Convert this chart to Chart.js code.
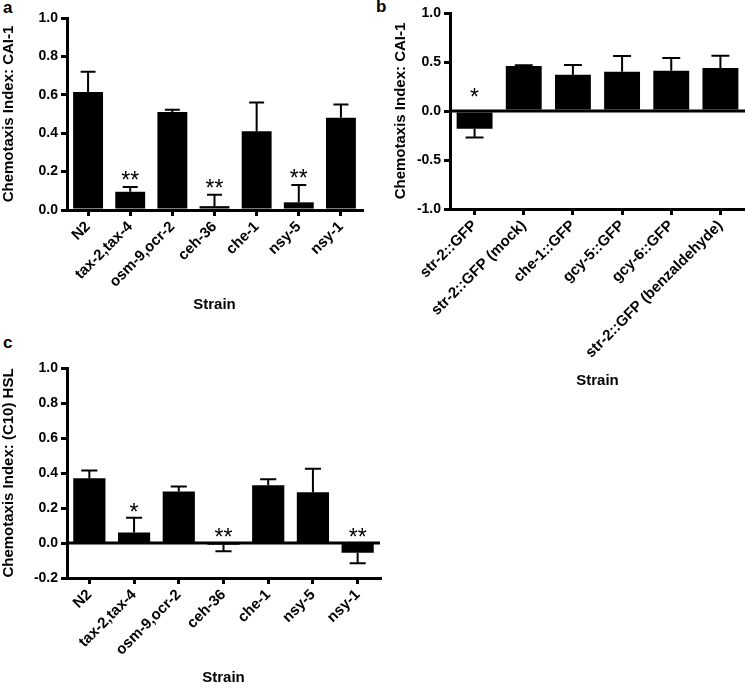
<!DOCTYPE html>
<html>
<head>
<meta charset="utf-8">
<title>Chemotaxis index</title>
<script src="https://cdn.jsdelivr.net/npm/chart.js@4.4.1/dist/chart.umd.min.js"></script>
<style>
  body { margin: 0; background: #fff; width: 745px; height: 688px; overflow: hidden; position: relative; font-family: "Liberation Sans", Arial, sans-serif; }
  canvas { position: absolute; }
  .letter { position: absolute; font-weight: bold; font-size: 17px; color: #000; }
</style>
</head>
<body>
<div class="letter" style="left:3px;top:-2px">a</div>
<div class="letter" style="left:376px;top:-3px">b</div>
<div class="letter" style="left:3px;top:333px">c</div>

<canvas id="chartA" width="372" height="314" style="left:0;top:0"></canvas>
<canvas id="chartB" width="373" height="390" style="left:372px;top:0"></canvas>
<canvas id="chartC" width="390" height="349" style="left:0;top:338px"></canvas>

<script>
// panel a - CAI-1
const strainsA = ['N2', 'tax-2,tax-4', 'osm-9,ocr-2', 'ceh-36', 'che-1', 'nsy-5', 'nsy-1'];
const meanA = [0.615, 0.095, 0.51, 0.02, 0.41, 0.04, 0.48];
const semA = [0.105, 0.025, 0.012, 0.06, 0.15, 0.09, 0.07];
const starsA = ['', '**', '', '**', '', '**', ''];

// panel b - CAI-1, GFP strains
const strainsB = ['str-2::GFP', 'str-2::GFP (mock)', 'che-1::GFP', 'gcy-5::GFP', 'gcy-6::GFP', 'str-2::GFP (benzaldehyde)'];
const meanB = [-0.18, 0.46, 0.37, 0.40, 0.41, 0.44];
const semB = [0.09, 0.008, 0.10, 0.16, 0.13, 0.125];
const starsB = ['*', '', '', '', '', ''];

// panel c - (C10) HSL
const strainsC = ['N2', 'tax-2,tax-4', 'osm-9,ocr-2', 'ceh-36', 'che-1', 'nsy-5', 'nsy-1'];
const meanC = [0.37, 0.06, 0.295, -0.01, 0.33, 0.29, -0.055];
const semC = [0.045, 0.085, 0.028, 0.037, 0.035, 0.135, 0.06];
const starsC = ['', '*', '', '**', '', '', '**'];

const FONT = '"Liberation Sans", Arial, sans-serif';

// error bars (one sided), stars and the zero line
function errorBarPlugin(means, sems, stars, starGap, zeroLine) {
  return {
    id: 'errorBars',
    afterDatasetsDraw(chart) {
      const ctx = chart.ctx;
      const y = chart.scales.y;
      const area = chart.chartArea;
      const yZero = y.getPixelForValue(0);
      ctx.save();
      ctx.strokeStyle = '#000';
      ctx.fillStyle = '#000';
      if (zeroLine) {
        ctx.lineWidth = 3;
        ctx.beginPath();
        ctx.moveTo(area.left, yZero);
        ctx.lineTo(area.right, yZero);
        ctx.stroke();
      }
      chart.getDatasetMeta(0).data.forEach((bar, i) => {
        const cx = bar.x;
        const half = bar.width / 4;
        const end = means[i] + (means[i] < 0 ? -sems[i] : sems[i]);
        const y0 = y.getPixelForValue(means[i]);
        const y1 = y.getPixelForValue(end);
        ctx.lineWidth = 2;
        ctx.beginPath();
        ctx.moveTo(cx, y0);
        ctx.lineTo(cx, y1);
        ctx.moveTo(cx - half, y1);
        ctx.lineTo(cx + half, y1);
        ctx.stroke();
        if (stars[i]) {
          const anchor = Math.min(y1, yZero);
          ctx.font = '23px ' + FONT;
          ctx.textAlign = 'center';
          ctx.textBaseline = 'alphabetic';
          ctx.fillText(stars[i], cx, anchor - starGap + 13);
        }
      });
      ctx.restore();
    }
  };
}

function makePanel(id, labels, means, sems, stars, opts) {
  const tickFont = { family: FONT, size: 14, weight: 'bold' };
  const catFont = { family: FONT, size: 15, weight: 'bold' };
  const titleFont = { family: FONT, size: 15, weight: 'bold' };
  return new Chart(document.getElementById(id), {
    type: 'bar',
    data: {
      labels: labels,
      datasets: [{
        data: means,
        backgroundColor: '#000',
        barPercentage: opts.barPct,
        categoryPercentage: 1
      }]
    },
    options: {
      responsive: false,
      animation: false,
      layout: { padding: opts.padding },
      plugins: { legend: { display: false }, tooltip: { enabled: false } },
      scales: {
        x: {
          grid: { offset: false, drawOnChartArea: false, color: '#000', lineWidth: 3, tickLength: 6 },
          border: { color: '#000', width: 3 },
          ticks: { color: '#000', font: catFont, minRotation: 45, maxRotation: 45, padding: 2, autoSkip: false },
          title: { display: true, text: 'Strain', color: '#000', font: titleFont, padding: 0 },
          afterFit(scale) { scale.height = opts.xHeight; }
        },
        y: {
          min: opts.min,
          max: opts.max,
          grid: { drawOnChartArea: false, color: '#000', lineWidth: 3, tickLength: 6 },
          border: { color: '#000', width: 3 },
          ticks: {
            stepSize: opts.step, color: '#000', font: tickFont, padding: 3,
            callback: v => (Math.abs(v) < 1e-9 ? 0 : v).toFixed(1)
          },
          title: { display: true, text: opts.yTitle, color: '#000', font: titleFont, padding: 0 },
          afterFit(scale) { scale.width = opts.yWidth; }
        }
      }
    },
    plugins: [errorBarPlugin(means, sems, stars, opts.starGap, opts.zeroLine)]
  });
}

makePanel('chartA', strainsA, meanA, semA, starsA, {
  min: 0, max: 1, step: 0.2, yTitle: 'Chemotaxis Index: CAI-1',
  padding: { top: 18, right: 10, left: 0, bottom: 0 },
  yWidth: 67, xHeight: 104, barPct: 0.71, starGap: 12, zeroLine: false
});

makePanel('chartB', strainsB, meanB, semB, starsB, {
  min: -1, max: 1, step: 0.5, yTitle: 'Chemotaxis Index: CAI-1',
  padding: { top: 13, right: 0, left: 20, bottom: 0 },
  yWidth: 58, xHeight: 181, barPct: 0.73, starGap: 19, zeroLine: true
});

makePanel('chartC', strainsC, meanC, semC, starsC, {
  min: -0.2, max: 1, step: 0.2, yTitle: 'Chemotaxis Index: (C10) HSL',
  padding: { top: 30, right: 10, left: 0, bottom: 0 },
  yWidth: 67, xHeight: 109, barPct: 0.72, starGap: 11, zeroLine: true
});
</script>
</body>
</html>
